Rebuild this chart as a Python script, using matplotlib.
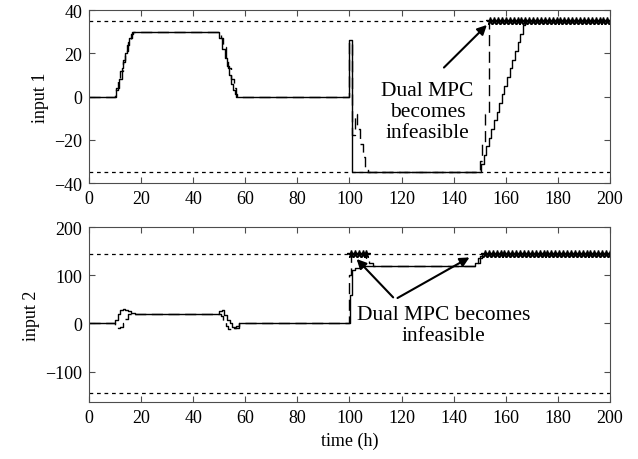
# input trajectories of the two controllers (MPC solid, dual MPC dashed)
import numpy as np
import matplotlib.pyplot as plt

plt.rcParams['font.family'] = ['Liberation Serif', 'DejaVu Serif']
plt.rcParams['font.size'] = 13

# bounds on the inputs
u1_bound = 35
u2_bound = 145

# input 1, MPC (solid)
t1_mpc = [0, 10.5, 11.5, 12.5, 13.2, 14, 14.6, 15.4, 16.5,
          50, 51.2, 52.2, 53, 53.8, 54.6, 55.4, 56.2, 57,
          100, 101,
          150.5, 151.5, 152.5, 153.5, 154.5, 155.5, 156.5, 157.5, 158.5,
          159.5, 160.5, 161.5, 162.5, 163.5, 164.5, 165.5, 166.5, 167.5, 200]
u1_mpc = [0, 4, 8, 13, 17, 20, 24, 27, 30,
          27, 22, 18, 14, 10, 6, 3, 1, 0,
          26, -35,
          -31, -27, -23, -19, -15, -11, -7, -3, 1,
          5, 9, 13, 17, 21, 25, 29, 33, 35, 35]

# input 1, dual MPC (dashed)
t1_dual = [0, 10, 11, 12, 13, 14, 15, 16, 17,
           50.5, 51.5, 52.5, 53.5, 54.5, 55.5, 56.5,
           100, 101, 102, 103, 104, 105, 106, 107,
           150, 151, 152, 153.7, 200]
u1_dual = [0, 3, 7, 12, 16, 21, 25, 29, 30,
           27, 23, 18, 13, 8, 4, 0,
           25, -18, -8, -15, -22, -28, -33, -35,
           -30, -22, -8, 35, 35]
t1_mark = np.arange(154, 201, 1.5)

# input 2, MPC (solid)
t2_mpc = [0, 10, 11, 12, 13, 14, 15, 16, 17.5,
          50, 51, 52, 53, 54, 55, 56, 57.5,
          100.2, 101, 102, 104,
          148, 149.5, 151, 200]
u2_mpc = [0, 8, 20, 27, 30, 28, 25, 22, 20,
          26, 28, 18, 8, 0, -8, -10, 0,
          60, 110, 115, 120,
          125, 135, 145, 145]

# input 2, dual MPC (dashed)
t2_dual = [0, 10, 11, 12, 13, 14, 15, 16, 17,
           50.5, 51.5, 52.5, 53.5, 54.5, 55.5, 56.5, 57.5,
           100, 100.5, 106.5, 107.5, 109,
           148.5, 150, 151.5, 200]
u2_dual = [0, -5, -10, -8, 0, 10, 20, 22, 20,
           15, 5, -5, -12, -14, -10, -5, 0,
           100, 145, 130, 125, 120,
           125, 140, 145, 145]
t2_mark_a = np.arange(100.5, 106.6, 1.5)
t2_mark_b = np.arange(152, 201, 1.5)

fig = plt.figure(figsize=(6.38, 4.6), dpi=100)
ax1 = fig.add_axes([0.1395, 0.6, 0.8166, 0.376])
ax2 = fig.add_axes([0.1395, 0.124, 0.8166, 0.380])

# top panel
ax1.plot([0, 200], [u1_bound, u1_bound], 'k', ls=(0, (3, 3)), lw=0.9)
ax1.plot([0, 200], [-u1_bound, -u1_bound], 'k', ls=(0, (3, 3)), lw=0.9)
ax1.step(t1_mpc, u1_mpc, where='post', color='k', lw=1.0)
ax1.step(t1_dual, u1_dual, where='post', color='k', lw=1.0, ls=(0, (8, 4)))
ax1.plot(t1_mark, np.full(len(t1_mark), u1_bound), 'k*-', ms=5.5, lw=1.2)
ax1.set_ylim(-40, 40)
ax1.set_yticks([-40, -20, 0, 20, 40])
ax1.set_ylabel('input 1')
ax1.text(130, -7, 'Dual MPC\nbecomes\ninfeasible', ha='center', va='center',
         linespacing=1.15, fontsize=15.5)
ax1.annotate('', xy=(153.5, 34), xytext=(135.5, 12.5),
             arrowprops=dict(arrowstyle='-|>', color='k', lw=1.5,
                             mutation_scale=14))

# bottom panel
ax2.plot([0, 200], [u2_bound, u2_bound], 'k', ls=(0, (3, 3)), lw=0.9)
ax2.plot([0, 200], [-u2_bound, -u2_bound], 'k', ls=(0, (3, 3)), lw=0.9)
ax2.step(t2_mpc, u2_mpc, where='post', color='k', lw=1.0)
ax2.step(t2_dual, u2_dual, where='post', color='k', lw=1.0, ls=(0, (8, 4)))
ax2.plot(t2_mark_a, np.full(len(t2_mark_a), u2_bound), 'k*-', ms=5.5, lw=1.2)
ax2.plot(t2_mark_b, np.full(len(t2_mark_b), u2_bound), 'k*-', ms=5.5, lw=1.2)
ax2.set_ylim(-163, 200)
ax2.set_yticks([-100, 0, 100, 200])
ax2.set_ylabel('input 2')
ax2.set_xlabel('time (h)')
ax2.text(136, -4, 'Dual MPC becomes\ninfeasible', ha='center', va='center',
         linespacing=1.15, fontsize=15.5)
for xy in [(102, 138), (147, 140)]:
    ax2.annotate('', xy=xy, xytext=(117.5, 50),
                 arrowprops=dict(arrowstyle='-|>', color='k', lw=1.5,
                                 mutation_scale=14))

for ax in (ax1, ax2):
    ax.set_xlim(0, 200)
    ax.set_xticks(range(0, 201, 20))
    ax.tick_params(direction='in', top=True, right=True, length=4,
                   color='0.3', pad=5)
    for s in ax.spines.values():
        s.set_color('0.3')

fig.savefig('out.png', dpi=100)
